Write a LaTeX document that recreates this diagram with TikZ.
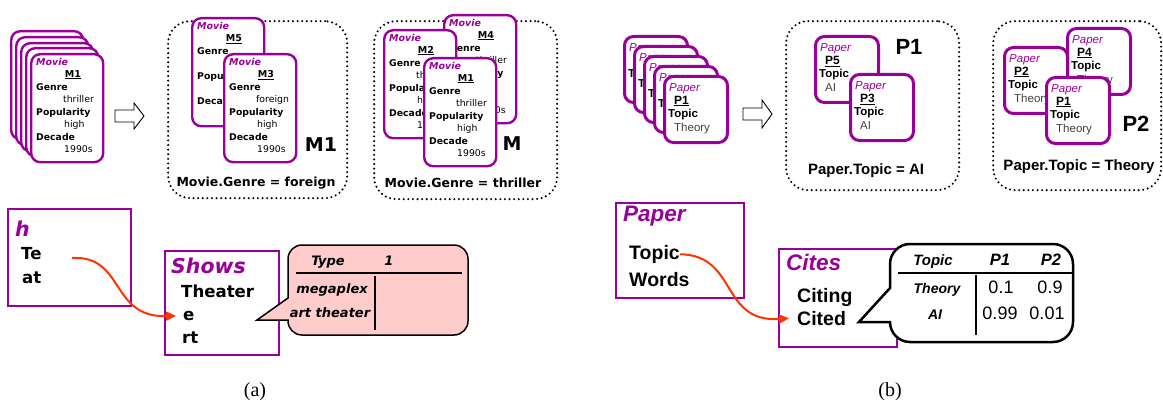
\documentclass[tikz,border=0pt]{standalone}
\usepackage{fontspec}
\setmainfont{Liberation Serif}
\newfontfamily\verd{DejaVu Sans}
\newfontfamily\ari{Liberation Sans}
\usetikzlibrary{arrows.meta}
\definecolor{pur}{RGB}{153,0,153}
\definecolor{pinkf}{RGB}{255,204,204}
\definecolor{redarr}{RGB}{255,51,0}
\newcommand\fs[1]{\fontsize{#1}{#1}\selectfont}
\newcommand\moviecard[7]{%
 \node[mcard] (#1) at (#2,#3) {};
 \node[mtitle] (#1t) at (#2+6,#3+10) {Movie};
 \node[mident] (#1i) at (#2+43,#3+22) {\underline{#4}};
 \node[mlab] (#1g) at (#2+6,#3+35) {Genre};
 \node[mval] (#1gv) at (#2+33,#3+47) {#5};
 \node[mlab] (#1p) at (#2+6,#3+60) {Popularity};
 \node[mval] (#1pv) at (#2+34,#3+72) {#6};
 \node[mlab] (#1d) at (#2+6,#3+85) {Decade};
 \node[mval] (#1dv) at (#2+34,#3+97) {#7};
}
\newcommand\papercard[5]{%
 \node[pcard] (#1) at (#2,#3) {};
 \node[ptitle] (#1t) at (#2+6,#3+14) {Paper};
 \node[pident] (#1i) at (#2+11,#3+27) {\underline{#4}};
 \node[plab] (#1l) at (#2+5,#3+40) {Topic};
 \node[pval] (#1v) at (#2+11,#3+54) {#5};
}
\newcommand\backpaper[3]{%
 \node[pcard] (#1) at (#2,#3) {};
 \node[ptitle] (#1t) at (#2+6,#3+14) {Paper};
 \node[plab] (#1l) at (#2+5,#3+40) {Topic};
}
\tikzset{
 mcard/.style={draw=pur, line width=2.4pt, fill=white, rounded corners=9pt, minimum width=72pt, minimum height=108pt, anchor=north west, inner sep=0pt},
 pcard/.style={draw=pur, line width=3pt, fill=white, rounded corners=9pt, minimum width=63pt, minimum height=66pt, anchor=north west, inner sep=0pt},
 txt/.style={inner sep=0pt, anchor=mid west},
 mtitle/.style={txt, text=pur, font={\verd\bfseries\itshape\fs{9.5}}},
 mident/.style={inner sep=0pt, anchor=mid, font={\verd\bfseries\fs{9.5}}},
 mlab/.style={txt, font={\verd\bfseries\fs{9.3}}},
 mval/.style={txt, font={\verd\fs{9.3}}},
 ptitle/.style={txt, text=pur, font={\ari\itshape\fs{11.5}}},
 pident/.style={txt, font={\ari\bfseries\fs{12}}},
 plab/.style={txt, font={\ari\bfseries\fs{11.5}}},
 pval/.style={txt, text=black!75, font={\ari\fs{11.5}}},
 dotbox/.style={draw, line width=2.3pt, dash pattern=on 0pt off 4.6pt, line cap=round, rounded corners=22pt, anchor=north west, inner sep=0pt},
 biglabM/.style={inner sep=0pt, font={\verd\bfseries\fs{19}}},
 biglabP/.style={inner sep=0pt, font={\ari\bfseries\fs{22}}},
 capM/.style={inner sep=0pt, font={\verd\bfseries\fs{12.5}}},
 capP/.style={inner sep=0pt, font={\ari\bfseries\fs{15}}},
 rbox/.style={draw=pur, line width=2pt, anchor=north west, inner sep=0pt},
 btitleL/.style={txt, text=pur, font={\verd\bfseries\itshape\fs{20.5}}},
 blabL/.style={txt, font={\verd\bfseries\fs{16.6}}},
 btitleR/.style={txt, text=pur, font={\ari\bfseries\itshape\fs{22.5}}},
 blabR/.style={txt, font={\ari\bfseries\fs{19.5}}},
 tabL/.style={inner sep=0pt, anchor=mid, font={\verd\bfseries\itshape\fs{13}}},
 tabRh/.style={inner sep=0pt, anchor=mid, font={\ari\bfseries\itshape\fs{16.5}}},
 tabRl/.style={inner sep=0pt, anchor=mid, font={\ari\bfseries\itshape\fs{14}}},
 tabRn/.style={inner sep=0pt, anchor=mid, font={\ari\fs{18}}},
 blockarrow/.style={draw, line width=0.9pt, fill=white},
 link/.style={draw=redarr, line width=2pt, -{Triangle[length=10pt,width=9pt]}},
 capt/.style={inner sep=0pt, font={\fs{20}}}
}
\begin{document}
\begin{tikzpicture}[x=1pt,y=-1pt]
\useasboundingbox (0,0) rectangle (1163,412);
% ---------------- (a) ----------------
\node[mcard] (s1) at (10,30) {};
\node[mcard] (s2) at (15,36) {};
\node[mcard] (s3) at (20,42) {};
\node[mcard] (s4) at (25,47) {};
\moviecard{s5}{30}{53}{M1}{thriller}{high}{1990s}
\draw[blockarrow] (115,110) -- (134,110) -- (134,103) -- (144,116) -- (134,129) -- (134,122) -- (115,122) -- cycle;

\node[dotbox, minimum width=179pt, minimum height=177pt] (boxA) at (167,20) {};
\node[dotbox, minimum width=183pt, minimum height=178pt] (boxB) at (373,20) {};
\moviecard{m5}{191}{17}{M5}{}{}{}
\moviecard{m3}{223}{53}{M3}{foreign}{high}{1990s}
\node[biglabM] (lM1) at (321,145) {M1};
\node[capM] (cA) at (256,183) {Movie.Genre = foreign};
\moviecard{m4}{443}{14}{M4}{thriller}{high}{1990s}
\moviecard{m2}{383}{29}{M2}{thriller}{high}{1990s}
\moviecard{m1}{423}{57}{M1}{thriller}{high}{1990s}
\node[biglabM] (lM) at (512,144) {M};
\node[capM] (cB) at (463,183) {Movie.Genre = thriller};

\node[rbox, minimum width=123pt, minimum height=97pt] (hbox) at (7,208) {};
\node[btitleL] (ht) at (15,234) {h};
\node[blabL] (hte) at (21,257) {Te};
\node[blabL] (hat) at (22,281) {at};
\node[rbox, minimum width=114pt, minimum height=104pt] (sbox) at (164,250) {};
\node[btitleL] (st) at (171,271) {Shows};
\node[blabL] (sth) at (181,295) {Theater};
\node[blabL] (se) at (183,318) {e};
\node[blabL] (srt) at (182,341) {rt};
\coordinate (la) at (72,258);
\draw[link] (la) .. controls (125,255) and (110,318) .. ([xshift=-7pt]se.west);

\draw[line width=1.5pt, fill=pinkf] (257,320) -- (288,298) [rounded corners=14pt] -- (288,245) -- (468,245) -- (468,335) -- (288,335) [sharp corners] -- (288,320) -- cycle;
\node[tabL] (ty) at (328,263) {Type};
\node[tabL] (t1) at (389,263) {1};
\node[tabL] (tm) at (332,291) {megaplex};
\node[tabL] (ta) at (330,315) {art theater};
\draw[line width=1.5pt] (296,273) -- (462,273);
\draw[line width=1.5pt] (375,276) -- (375,330);

% ---------------- (b) ----------------
\backpaper{q1}{623}{35}
\backpaper{q2}{633}{45}
\backpaper{q3}{643}{55}
\backpaper{q4}{653}{65}
\papercard{q5}{663}{75}{P1}{Theory}
\draw[blockarrow] (743,108) -- (762,108) -- (762,100) -- (772,114) -- (762,128) -- (762,120) -- (743,120) -- cycle;

\node[dotbox, minimum width=173pt, minimum height=169pt] (boxC) at (785,20) {};
\node[dotbox, minimum width=168pt, minimum height=169pt] (boxD) at (992,20) {};
\papercard{p5}{814}{35}{P5}{AI}
\papercard{p3}{849}{73}{P3}{AI}
\node[biglabP] (lP1) at (909,47) {P1};
\node[capP] (cC) at (866,171) {Paper.Topic = AI};
\papercard{p4}{1066}{27}{P4}{Theory}
\papercard{p2}{1003}{46}{P2}{Theory}
\papercard{p1}{1045}{76}{P1}{Theory}
\node[biglabP] (lP2) at (1136,124) {P2};
\node[capP] (cD) at (1079,167) {Paper.Topic = Theory};

\node[rbox, minimum width=128pt, minimum height=95pt] (pbox) at (615,202) {};
\node[btitleR] (pt) at (623,219) {Paper};
\node[blabR] (ptop) at (629,257) {Topic};
\node[blabR] (pw) at (629,284) {Words};
\node[rbox, minimum width=118pt, minimum height=98pt] (cbox) at (778,248) {};
\node[btitleR] (ct) at (786,268) {Cites};
\node[blabR] (cci) at (797,300) {Citing};
\node[blabR] (ccd) at (797,323) {Cited};
\draw[link] (ptop.east) .. controls (738,255) and (720,323) .. ([xshift=-8pt]ccd.west);

\draw[line width=2.5pt, fill=white] (859,322) -- (890,288) [rounded corners=20pt] -- (890,244) -- (1073,244) -- (1073,342) -- (890,342) [sharp corners] -- (890,322) -- cycle;
\node[tabRh, font={\ari\bfseries\itshape\fs{15}}] (rt) at (933,263) {Topic};
\node[tabRh] (rp1) at (1000,263) {P1};
\node[tabRh] (rp2) at (1051,263) {P2};
\node[tabRl] (rth) at (937,291) {Theory};
\node[tabRl] (rai) at (935,317) {AI};
\node[tabRn] (n11) at (1001,291) {0.1};
\node[tabRn] (n12) at (1050,291) {0.9};
\node[tabRn] (n21) at (1000,317) {0.99};
\node[tabRn] (n22) at (1047,317) {0.01};
\draw[line width=2.5pt] (898,273) -- (1072,273);
\draw[line width=2.5pt] (976,275) -- (976,335);

\node[capt] (capa) at (255,392) {(a)};
\node[capt] (capb) at (890,392) {(b)};
\end{tikzpicture}
\end{document}
